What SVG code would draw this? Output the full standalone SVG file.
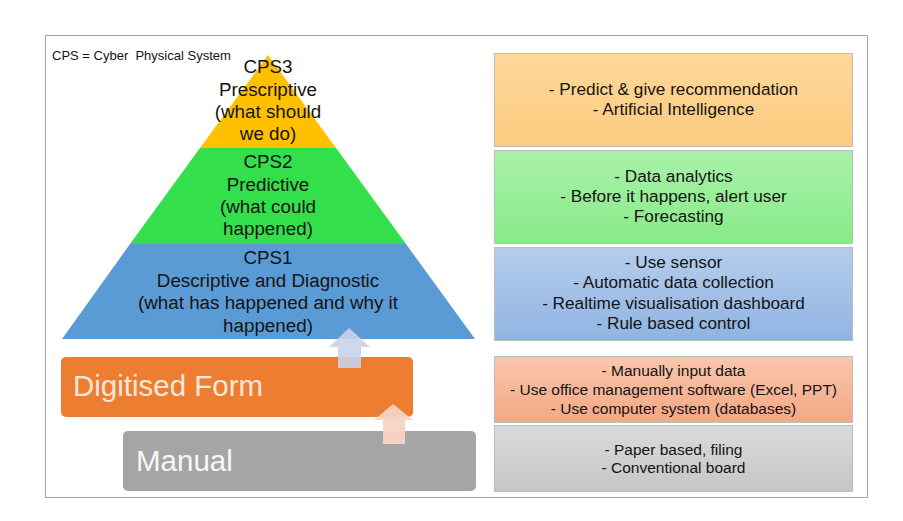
<svg xmlns="http://www.w3.org/2000/svg" width="903" height="521" viewBox="0 0 903 521">
<defs>
<linearGradient id="gY" x1="0" y1="0" x2="0" y2="1"><stop offset="0" stop-color="#FFD899"/><stop offset="1" stop-color="#FBCB80"/></linearGradient>
<linearGradient id="gG" x1="0" y1="0" x2="0" y2="1"><stop offset="0" stop-color="#A8F2A8"/><stop offset="1" stop-color="#88EA88"/></linearGradient>
<linearGradient id="gB" x1="0" y1="0" x2="0" y2="1"><stop offset="0" stop-color="#B5CDEC"/><stop offset="1" stop-color="#8FB4E2"/></linearGradient>
<linearGradient id="gO" x1="0" y1="0" x2="0" y2="1"><stop offset="0" stop-color="#F9C6AE"/><stop offset="1" stop-color="#F4A783"/></linearGradient>
<linearGradient id="gR" x1="0" y1="0" x2="0" y2="1"><stop offset="0" stop-color="#DADADA"/><stop offset="1" stop-color="#C6C6C6"/></linearGradient>
</defs>
<style>
.t{font-family:"Liberation Sans",Arial,sans-serif;fill:#141414;text-anchor:middle}
.p{font-size:18.8px}
.r{font-size:17.2px}
.s{font-size:15.5px}
.box{stroke:#BDBDBD;stroke-width:1}
.big{font-family:"Liberation Sans",Arial,sans-serif;font-size:29.5px}
</style>
<rect x="0" y="0" width="903" height="521" fill="#ffffff"/>
<rect x="45.5" y="35.5" width="822" height="462" fill="#ffffff" stroke="#A6A6A6" stroke-width="1"/>
<text x="52" y="60" font-family="Liberation Sans, Arial, sans-serif" font-size="13" fill="#141414" xml:space="preserve">CPS = Cyber  Physical System</text>

<g id="cps3">
<polygon points="268,55 336,148 200,148" fill="#FFC000"/>
<text class="t p" x="268" y="73">CPS3</text>
<text class="t p" x="268" y="96">Prescriptive</text>
<text class="t p" x="268" y="118">(what should</text>
<text class="t p" x="268" y="140">we do)</text>
</g>
<g id="cps2">
<polygon points="200,148 336,148 406,244 130,244" fill="#33DF4A"/>
<text class="t p" x="268" y="168">CPS2</text>
<text class="t p" x="268" y="191">Predictive</text>
<text class="t p" x="268" y="213">(what could</text>
<text class="t p" x="268" y="235">happened)</text>
</g>
<g id="cps1">
<polygon points="130,244 406,244 475,339 62,339" fill="#5B9BD5"/>
<text class="t p" x="268" y="264">CPS1</text>
<text class="t p" x="268" y="287">Descriptive and Diagnostic</text>
<text class="t p" x="268" y="309">(what has happened and why it</text>
<text class="t p" x="268" y="332">happened)</text>
</g>
<g id="digitised">
<rect x="61" y="357" width="352" height="60" rx="5" fill="#ED7D31"/>
<text class="big" x="73" y="396" fill="#FCE8DA">Digitised Form</text>
</g>
<g id="manual">
<rect x="123" y="431" width="353" height="60" rx="5" fill="#A5A5A5"/>
<text class="big" x="136" y="471" fill="#F7F7F7">Manual</text>
</g>

<g id="connectors">
<polygon points="349,328 370,347 361,347 361,368 338,368 338,347 329,347" fill="#C9D3EA" fill-opacity="0.9"/>
<polygon points="393,404 413,420 405,420 405,444 383,444 383,420 374,420" fill="#F9D3C2" fill-opacity="0.95"/>
</g>

<g id="box-cps3">
<rect class="box" x="494.5" y="53.5" width="358" height="93" fill="url(#gY)"/>
<text class="t r" x="673.5" y="95">- Predict &amp; give recommendation</text>
<text class="t r" x="673.5" y="115">- Artificial Intelligence</text>
</g>
<g id="box-cps2">
<rect class="box" x="494.5" y="150.5" width="358" height="93" fill="url(#gG)"/>
<text class="t r" x="673.5" y="182">- Data analytics</text>
<text class="t r" x="673.5" y="202">- Before it happens, alert user</text>
<text class="t r" x="673.5" y="222">- Forecasting</text>
</g>
<g id="box-cps1">
<rect class="box" x="494.5" y="247.5" width="358" height="93" fill="url(#gB)"/>
<text class="t r" x="673.5" y="268">- Use sensor</text>
<text class="t r" x="673.5" y="288">- Automatic data collection</text>
<text class="t r" x="673.5" y="309">- Realtime visualisation dashboard</text>
<text class="t r" x="673.5" y="329">- Rule based control</text>
</g>
<g id="box-digitised">
<rect class="box" x="494.5" y="356.5" width="358" height="66" fill="url(#gO)"/>
<text class="t s" x="673.5" y="376">- Manually input data</text>
<text class="t s" x="673.5" y="395">- Use office management software (Excel, PPT)</text>
<text class="t s" x="673.5" y="414">- Use computer system (databases)</text>
</g>
<g id="box-manual">
<rect class="box" x="494.5" y="425.5" width="358" height="66" fill="url(#gR)"/>
<text class="t s" x="673.5" y="455">- Paper based, filing</text>
<text class="t s" x="673.5" y="473">- Conventional board</text>
</g>
</svg>
